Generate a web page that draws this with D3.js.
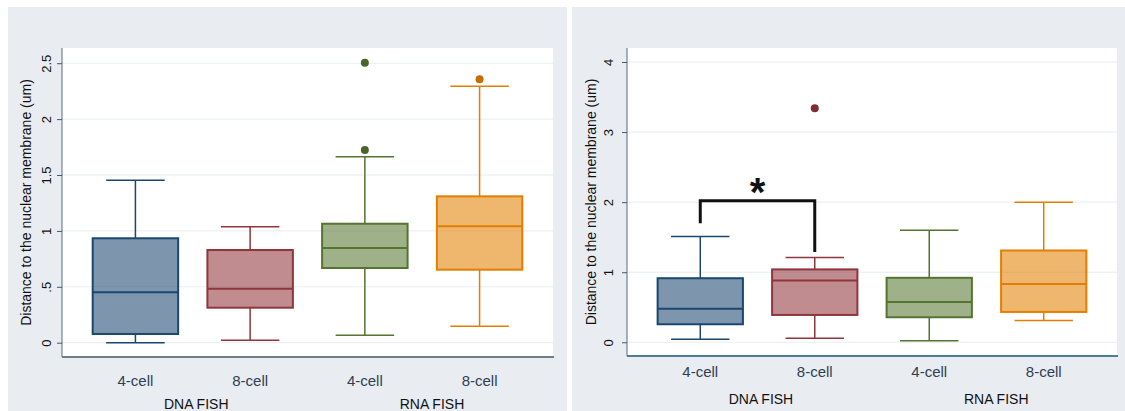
<!DOCTYPE html>
<html>
<head>
<meta charset="utf-8">
<script src="https://cdn.jsdelivr.net/npm/d3@7"></script>
<style>
  body { margin: 0; background: #fff; }
  svg { display: block; font-family: "Liberation Sans", Arial, sans-serif; }
</style>
</head>
<body>
<div class="canvas"></div>
<script>
// box plot, two panels (distance to nuclear membrane)

const width = 1125;
const height = 411;

// categories
const cellStages = ["4-cell", "8-cell", "4-cell", "8-cell"];
const fishTypes = ["DNA FISH", "RNA FISH"];
const yTitle = "Distance to the nuclear membrane (um)";

// left panel: [lower whisker, q1, median, q3, upper whisker]
const leftStats = [
  [0.0, 0.078, 0.451, 0.934, 1.453],
  [0.021, 0.313, 0.483, 0.829, 1.038],
  [0.066, 0.668, 0.847, 1.064, 1.664],
  [0.147, 0.653, 1.041, 1.309, 2.293]
];
const leftOutliers = [[], [], [2.505, 1.724], [2.356]];
const leftTicks = [0, 0.5, 1, 1.5, 2, 2.5];
const leftTickLabels = ["0", ".5", "1", "1.5", "2", "2.5"];

// right panel
const rightStats = [
  [0.043, 0.257, 0.48, 0.914, 1.51],
  [0.057, 0.39, 0.88, 1.04, 1.21],
  [0.023, 0.357, 0.576, 0.92, 1.60],
  [0.309, 0.433, 0.83, 1.31, 2.0]
];
const rightOutliers = [[], [3.34], [], []];
const rightTicks = [0, 1, 2, 3, 4];
const rightTickLabels = ["0", "1", "2", "3", "4"];

// significance bracket between 4-cell and 8-cell DNA FISH: left end, top, right end
const sigBracket = [1.70, 2.02, 1.29];
const sigLabel = "*";

const boxColors = ["#1a476f", "#90353b", "#55752f", "#e37e00"];

const svg = d3.select(".canvas").append("svg")
  .attr("width", width)
  .attr("height", height);

function drawPanel(p) {
  const g = svg.append("g");

  g.append("rect")
    .attr("x", p.x0).attr("y", 7)
    .attr("width", p.x1 - p.x0).attr("height", height - 7)
    .attr("fill", "#e9edf1");

  g.append("rect")
    .attr("x", p.plotL).attr("y", p.plotT)
    .attr("width", p.plotR - p.plotL).attr("height", p.plotB - p.plotT)
    .attr("fill", "#fff");

  const x = d3.scalePoint()
    .domain(d3.range(cellStages.length))
    .range([p.plotL, p.plotR])
    .padding(0.64);
  const step = x.step();

  const y = d3.scaleLinear()
    .domain(p.yDomain)
    .range([p.plotB, p.plotT]);

  // gridlines
  g.selectAll(".grid")
    .data(p.ticks)
    .join("line")
    .attr("x1", p.plotL).attr("x2", p.plotR)
    .attr("y1", d => y(d)).attr("y2", d => y(d))
    .attr("stroke", "#e6edf3")
    .attr("stroke-width", 1);

  // y axis
  const yAxis = d3.axisLeft(y)
    .tickValues(p.ticks)
    .tickFormat((d, i) => p.tickLabels[i])
    .tickSize(5)
    .tickPadding(0);
  const gy = g.append("g")
    .attr("transform", `translate(${p.plotL},0)`)
    .call(yAxis);
  gy.select(".domain")
    .attr("d", `M0,${p.plotT}V${p.plotB}`)
    .attr("stroke", "#5a6b7a");
  gy.selectAll(".tick line").attr("stroke", "#3d5a73");
  gy.selectAll(".tick text")
    .attr("transform", "rotate(-90)")
    .attr("x", 0)
    .attr("y", -p.yLabelOff)
    .attr("dy", 0)
    .attr("text-anchor", "middle")
    .attr("font-size", 13)
    .attr("fill", "#111");

  // y title
  g.append("text")
    .attr("transform", `translate(${p.plotL - 31},${(p.plotT + p.plotB) / 2}) rotate(-90)`)
    .attr("text-anchor", "middle")
    .attr("font-size", 14)
    .attr("fill", "#111")
    .text(yTitle);

  // boxes
  const boxW = step * 0.745;
  const capW = step * 0.51;
  p.stats.forEach((s, i) => {
    const cx = x(i);
    const col = boxColors[i];
    const [lo, q1, med, q3, hi] = s;
    const bg = g.append("g");

    bg.append("line")
      .attr("x1", cx).attr("x2", cx)
      .attr("y1", y(q3)).attr("y2", y(hi))
      .attr("stroke", col).attr("stroke-width", 1.5);
    bg.append("line")
      .attr("x1", cx).attr("x2", cx)
      .attr("y1", y(q1)).attr("y2", y(lo))
      .attr("stroke", col).attr("stroke-width", 1.5);
    bg.selectAll(".cap")
      .data([lo, hi])
      .join("line")
      .attr("x1", cx - capW / 2).attr("x2", cx + capW / 2)
      .attr("y1", d => y(d)).attr("y2", d => y(d))
      .attr("stroke", col).attr("stroke-width", 1.5);

    bg.append("rect")
      .attr("x", cx - boxW / 2)
      .attr("y", y(q3))
      .attr("width", boxW)
      .attr("height", y(q1) - y(q3))
      .attr("fill", col)
      .attr("fill-opacity", 0.57)
      .attr("stroke", col)
      .attr("stroke-width", 2);
    bg.append("line")
      .attr("x1", cx - boxW / 2).attr("x2", cx + boxW / 2)
      .attr("y1", y(med)).attr("y2", y(med))
      .attr("stroke", col).attr("stroke-width", 2);

    bg.selectAll("circle")
      .data(p.outliers[i])
      .join("circle")
      .attr("cx", cx)
      .attr("cy", d => y(d))
      .attr("r", 4)
      .attr("fill", d3.color(col).darker(0.4));
  });

  // bottom axis line
  g.append("line")
    .attr("x1", p.plotL).attr("x2", p.plotR + 1)
    .attr("y1", p.plotB).attr("y2", p.plotB)
    .attr("stroke", p.axisColor).attr("stroke-width", 2);

  // category labels
  g.selectAll(".cat")
    .data(cellStages)
    .join("text")
    .attr("x", (d, i) => x(i))
    .attr("y", p.catLabelY)
    .attr("text-anchor", "middle")
    .attr("font-size", 15)
    .attr("fill", "#2e3f55")
    .text(d => d);

  // group labels
  const groupPos = [0.53, 2.585];
  g.selectAll(".grp")
    .data(fishTypes)
    .join("text")
    .attr("x", (d, i) => x(0) + groupPos[i] * step)
    .attr("y", p.groupLabelY)
    .attr("text-anchor", "middle")
    .attr("font-size", 14)
    .attr("fill", "#111")
    .text(d => d);

  return { x, y, g };
}

drawPanel({
  x0: 8, x1: 567,
  plotL: 62, plotR: 553, plotT: 48, plotB: 357,
  yDomain: [-0.128, 2.636],
  ticks: leftTicks, tickLabels: leftTickLabels,
  stats: leftStats, outliers: leftOutliers,
  yLabelOff: 11, catLabelY: 386, groupLabelY: 409,
  axisColor: "#6f7d8a"
});

const right = drawPanel({
  x0: 572, x1: 1125,
  plotL: 627, plotR: 1117, plotT: 48, plotB: 356,
  yDomain: [-0.196, 4.2],
  ticks: rightTicks, tickLabels: rightTickLabels,
  stats: rightStats, outliers: rightOutliers,
  yLabelOff: 14, catLabelY: 377, groupLabelY: 404,
  axisColor: "#4d7e98"
});

// significance bracket
const bx = right.x, by = right.y;
right.g.append("path")
  .attr("d", d3.line()([
    [bx(0), by(sigBracket[0])],
    [bx(0), by(sigBracket[1])],
    [bx(1), by(sigBracket[1])],
    [bx(1), by(sigBracket[2])]
  ]))
  .attr("fill", "none")
  .attr("stroke", "#111")
  .attr("stroke-width", 3);

right.g.append("text")
  .attr("x", (bx(0) + bx(1)) / 2)
  .attr("y", by(sigBracket[1]) + 5)
  .attr("text-anchor", "middle")
  .attr("font-size", 40)
  .attr("font-weight", "bold")
  .attr("fill", "#111")
  .text(sigLabel);
</script>
</body>
</html>
